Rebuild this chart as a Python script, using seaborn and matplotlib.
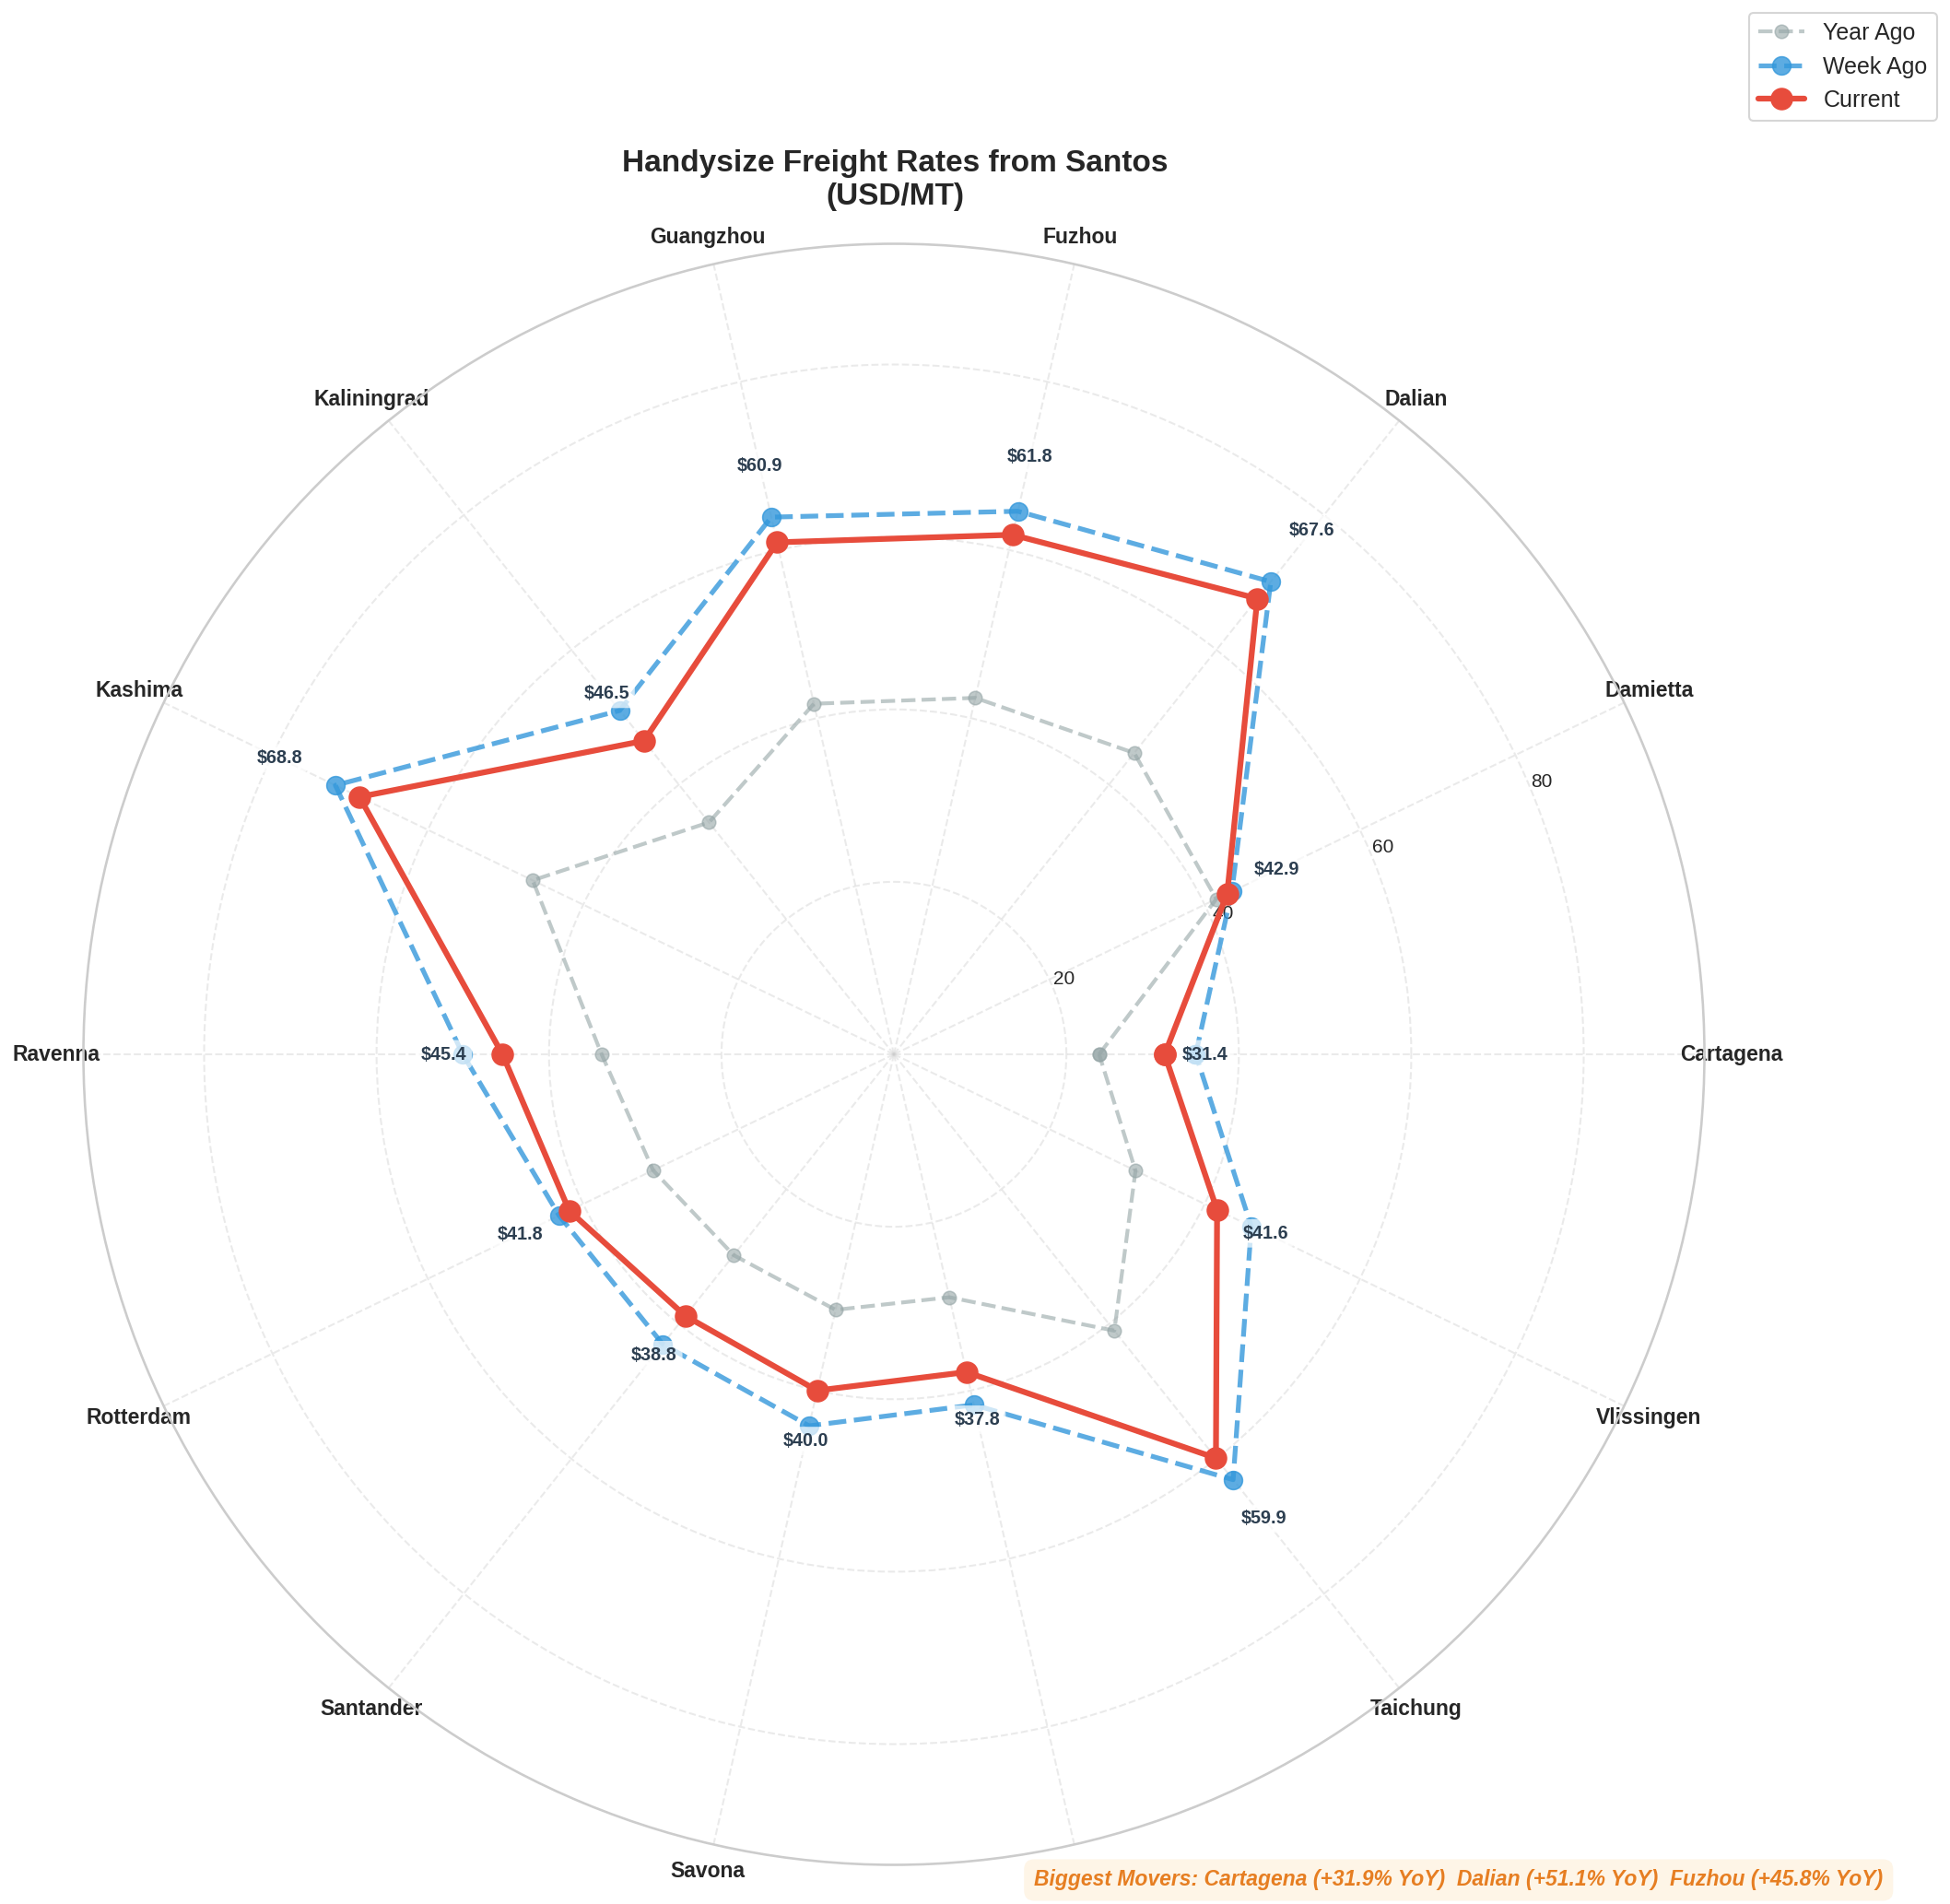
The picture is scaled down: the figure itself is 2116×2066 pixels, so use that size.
import numpy as np
import pandas as pd
import matplotlib
matplotlib.use('Agg')
import matplotlib.pyplot as plt
import seaborn as sns

# ---------------- data ----------------
ports = ['Cartagena', 'Damietta', 'Dalian', 'Fuzhou', 'Guangzhou', 'Kaliningrad',
         'Kashima', 'Ravenna', 'Rotterdam', 'Santander', 'Savona', 'Shanghai',
         'Taichung', 'Vlissingen']
current = [31.4, 42.9, 67.6, 61.8, 60.9, 46.5, 68.8, 45.4, 41.8, 38.8, 40.0, 37.8, 59.9, 41.6]
week_ago = [35.0, 43.5, 70.1, 64.6, 63.9, 51.0, 71.9, 50.0, 43.1, 43.0, 44.2, 41.7, 63.1, 46.0]
year_ago = [23.8, 41.5, 44.7, 42.4, 41.7, 34.4, 46.5, 33.9, 31.0, 29.8, 30.4, 28.9, 41.0, 31.1]
series_names = ['Year Ago', 'Week Ago', 'Current']
radial_ticks = [20, 40, 60, 80]
title_text = 'Handysize Freight Rates from Santos\n(USD/MT)'
movers_text = 'Biggest Movers: Cartagena (+31.9% YoY)  Dalian (+51.1% YoY)  Fuzhou (+45.8% YoY)'

# ---------------- style ----------------
sns.set_theme(style='whitegrid')
plt.rcParams['font.family'] = ['Liberation Sans', 'DejaVu Sans']

DPI = 150
fig = plt.figure(figsize=(2116 / DPI, 2066 / DPI), dpi=DPI)
ax = fig.add_axes([0.04277, 0.02057, 0.8313, 0.8514], projection='polar')

n = len(ports)
angles = np.linspace(0, 2 * np.pi, n, endpoint=False)
theta_closed = np.concatenate([angles, angles[:1]])

def closed(v):
    return list(v) + [v[0]]

df = pd.DataFrame({
    'theta': np.tile(theta_closed, 3),
    'rate': closed(year_ago) + closed(week_ago) + closed(current),
    'series': np.repeat(series_names, n + 1),
    'order': np.tile(np.arange(n + 1), 3),
})

styles = {
    'Year Ago': dict(color='#95a5a6', linestyle='--', linewidth=2, markersize=7, alpha=0.6),
    'Week Ago': dict(color='#3498db', linestyle='--', linewidth=2.5, markersize=9.5, alpha=0.8),
    'Current': dict(color='#e74c3c', linestyle='-', linewidth=3, markersize=11, alpha=1.0),
}

for name in series_names:
    sub = df[df['series'] == name].sort_values('order')
    st = styles[name]
    sns.lineplot(data=sub, x='theta', y='rate', ax=ax, sort=False, estimator=None,
                 marker='o', markeredgecolor=st['color'], label=name,
                 color=st['color'], linestyle=st['linestyle'], linewidth=st['linewidth'],
                 markersize=st['markersize'], alpha=st['alpha'])

ax.set_xlabel('')
ax.set_ylabel('')
ax.set_ylim(0, 94)
ax.set_yticks(radial_ticks)
ax.set_yticklabels([str(t) for t in radial_ticks], fontsize=10, color='#262626')
ax.set_xticks(angles)
ax.set_xticklabels(ports, fontsize=11, fontweight='bold', color='#262626')
ax.tick_params(axis='x', pad=1.3)
ax.grid(True, linestyle='--', alpha=0.4)

for ang, val in zip(angles, current):
    ax.text(ang, val * 1.15, f'${val:.1f}', ha='center', va='center', fontsize=9.5,
            fontweight='bold', color='#2c3e50', zorder=5,
            bbox=dict(boxstyle='round,pad=0.3', facecolor='white', edgecolor='none', alpha=0.7))

fig.text(0.4589, 1 - 221.7 / 2066, title_text, ha='center', va='baseline', fontsize=16,
         fontweight='bold', color='#262626')

ax.legend(loc='upper right', bbox_to_anchor=(0.9932, 0.9932), borderaxespad=0,
          bbox_transform=fig.transFigure, fontsize=12, frameon=True)

fig.text(0.748, 0.0126, movers_text, ha='center', va='center', fontsize=11,
         fontweight='bold', style='italic', color='#e67e22',
         bbox=dict(boxstyle='round,pad=0.48', facecolor='#fef5e7', edgecolor='none'))

fig.savefig('out.png', dpi=DPI)
